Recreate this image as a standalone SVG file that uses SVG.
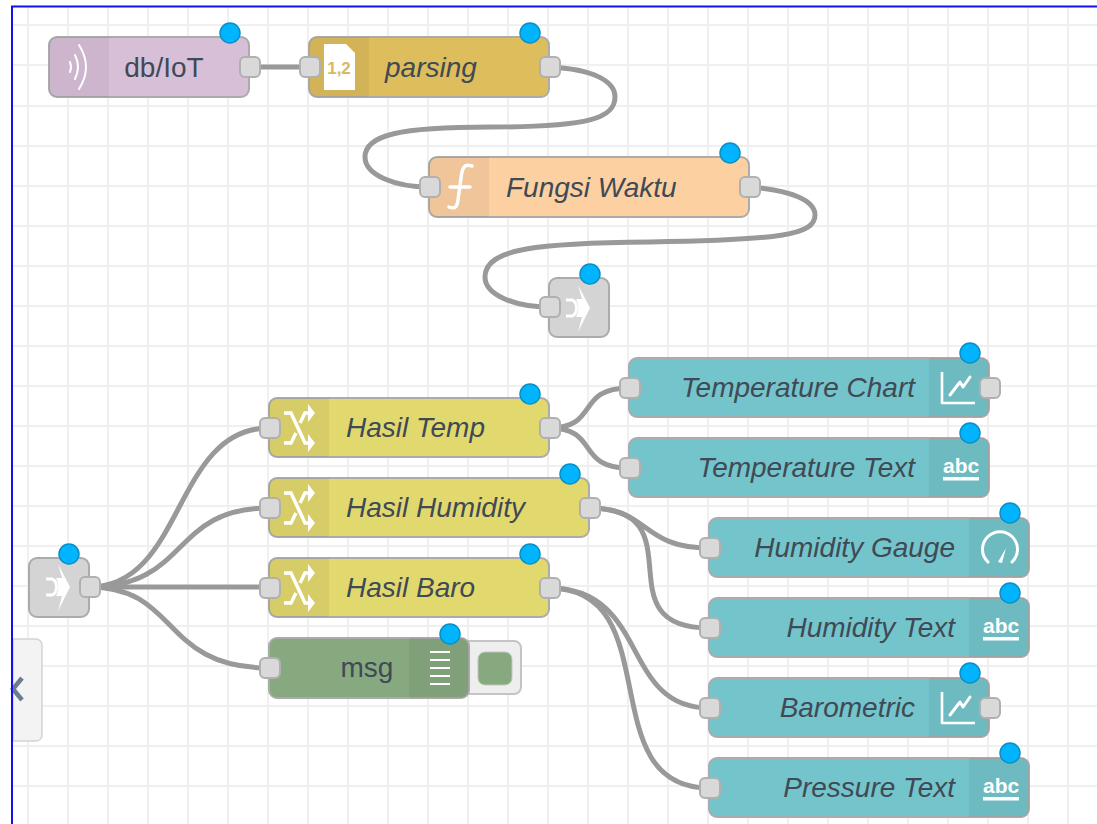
<svg xmlns="http://www.w3.org/2000/svg" width="1097" height="824" viewBox="0 0 1097 824">
<defs>
<style>
.g{stroke:#f0f0f0;stroke-width:2;fill:none}
.w{fill:none;stroke:#999;stroke-width:5;stroke-linecap:round}
.n{stroke:#ababab;stroke-width:2}
.ic{fill:#000;fill-opacity:.05;stroke:none}
.p{fill:#d9d9d9;stroke:#b0b0b0;stroke-width:2}
.b{fill:#00b4ff;stroke:#0a8fc4;stroke-width:1.5}
.t{font-family:"Liberation Sans",Arial,sans-serif;font-size:28px;fill:#3f4a55}
.i{font-style:italic}
.s{fill:none;stroke:#fff;stroke-width:2.6;stroke-linecap:round;stroke-linejoin:round}
.f{fill:#fff;stroke:none}
.abc{font-family:"Liberation Sans",Arial,sans-serif;font-size:21px;font-weight:bold;fill:#fff}
</style>
<g id="ch"><path class="s" d="M-17-17V14H16" style="stroke-linecap:butt"/><path class="s" d="M-9 6L1-7L4-2L11-12" style="stroke-width:3"/></g>
<g id="ab"><text class="abc" x="-18" y="7">abc</text><rect class="f" x="-18" y="11" width="36" height="3.5"/></g>
<g id="sw"><path class="s" d="M-15-15H-8L6 15H11M-15 15H-8L-3 5M1-5L6-15H11" style="stroke-width:3.500;stroke-linecap:butt;stroke-linejoin:miter"/><path class="f" d="M9-24L16-15L9-6ZM9 6L16 15L9 24Z"/></g>
<g id="lk"><path class="f" d="M-1-23L11 0L-1 24L3 9H-3C0 4 0-4-3-9H3Z"/><path class="s" d="M-13-8H-7C-1-6-1 6-7 8H-13" style="stroke-width:3;stroke-linecap:butt"/></g>
</defs>
<rect width="1097" height="824" fill="#fff"/>
<g id="grid">
<path class="g" d="M28 7V824M68 7V824M108 7V824M148 7V824M188 7V824M228 7V824M268 7V824M308 7V824M348 7V824M388 7V824M428 7V824M468 7V824M508 7V824M548 7V824M588 7V824M628 7V824M668 7V824M708 7V824M748 7V824M788 7V824M828 7V824M868 7V824M908 7V824M948 7V824M988 7V824M1028 7V824M1068 7V824"/>
<path class="g" d="M13 25H1097M13 65H1097M13 106H1097M13 146H1097M13 186H1097M13 226H1097M13 266H1097M13 306H1097M13 346H1097M13 386H1097M13 426H1097M13 466H1097M13 506H1097M13 546H1097M13 586H1097M13 626H1097M13 666H1097M13 706H1097M13 746H1097M13 786H1097"/>
</g>
<path id="tab" d="M13 639H36A6 6 0 0 1 42 645V735A6 6 0 0 1 36 741H13Z" fill="#f3f3f3" stroke="#d4d4d4" stroke-width="1.500"/>
<path d="M22 678L13 689L22 700" fill="none" stroke="#6d7c8c" stroke-width="4.500"/>
<path id="frame" d="M12 824V6.500H1097" fill="none" stroke="#1010f0" stroke-width="2"/>
<g id="connectors">
<path class="w" d="M249 67H309"/>
<path class="w" d="M549 67C595 69 615 82 615 97C615 118 590 127 490 127C400 127 365 135 365 157C365 175 395 187 429 187"/>
<path class="w" d="M749 187C790 190 815 200 815 215C815 235 780 240 650 242C540 243 485 248 485 277C485 295 515 307 549 307"/>
<path class="w" d="M89 587C185 587 173 428 269 428"/>
<path class="w" d="M89 587C190 587 170 508 269 508"/>
<path class="w" d="M89 587H269"/>
<path class="w" d="M89 587C180 587 160 668 269 668"/>
<path class="w" d="M549 428C600 428 575 388 629 388"/>
<path class="w" d="M549 428C600 428 575 468 629 468"/>
<path class="w" d="M589 508C650 508 640 548 709 548"/>
<path class="w" d="M589 508C700 508 600 628 709 628"/>
<path class="w" d="M549 588C650 588 620 708 709 708"/>
<path class="w" d="M549 588C670 588 590 788 709 788"/>
</g>
<g id="n-dbiot"><rect class="n" x="49" y="37" width="200" height="60" rx="8" fill="#d8bfd8"/><path class="ic" d="M57 37H109V97H57A8 8 0 0 1 49 89V45A8 8 0 0 1 57 37Z"/><path class="s" d="M70 62Q72 67 70 72M75 55Q81 67 75 79M79 45Q93 67 79 89" style="stroke-width:2"/><text class="t" x="164" y="77" text-anchor="middle">db/IoT</text><rect class="p" x="240" y="57" width="20" height="20" rx="5"/><circle class="b" cx="230" cy="33" r="10"/></g>
<g id="n-parsing"><rect class="n" x="309" y="37" width="240" height="60" rx="8" fill="#debd5c"/><path class="ic" d="M317 37H369V97H317A8 8 0 0 1 309 89V45A8 8 0 0 1 317 37Z"/><path class="f" d="M324 44H346L355 53V90H324Z"/><text x="339" y="74" text-anchor="middle" font-family="Liberation Sans,sans-serif" font-size="17" font-weight="bold" fill="#d9b95c">1,2</text><text class="t i" x="385" y="77">parsing</text><rect class="p" x="300" y="57" width="20" height="20" rx="5"/><rect class="p" x="540" y="57" width="20" height="20" rx="5"/><circle class="b" cx="530" cy="33" r="10"/></g>
<g id="n-fungsi"><rect class="n" x="429" y="157" width="320" height="60" rx="8" fill="#fdd0a2"/><path class="ic" d="M437 157H489V217H437A8 8 0 0 1 429 209V165A8 8 0 0 1 437 157Z"/><path class="s" d="M472 166C463 163 462 170 461 178L458 200C457 208 454 209 449 207M450 187H470" style="stroke-width:3.500"/><text class="t i" x="506" y="197">Fungsi Waktu</text><rect class="p" x="420" y="177" width="20" height="20" rx="5"/><rect class="p" x="740" y="177" width="20" height="20" rx="5"/><circle class="b" cx="730" cy="153" r="10"/></g>
<g id="n-linkout"><rect class="n" x="549" y="278" width="60" height="59" rx="8" fill="#d4d4d4"/><use href="#lk" x="579" y="308"/><rect class="p" x="540" y="297" width="20" height="20" rx="5"/><circle class="b" cx="590" cy="274" r="10"/></g>
<g id="n-linkin"><rect class="n" x="29" y="558" width="60" height="59" rx="8" fill="#d4d4d4"/><use href="#lk" x="59" y="587"/><rect class="p" x="80" y="577" width="20" height="20" rx="5"/><circle class="b" cx="69" cy="554" r="10"/></g>
<g id="n-hasiltemp"><rect class="n" x="269" y="398" width="280" height="59" rx="8" fill="#e2d96e"/><path class="ic" d="M277 398H329V457H277A8 8 0 0 1 269 449V406A8 8 0 0 1 277 398Z"/><use href="#sw" x="299" y="428"/><text class="t i" x="346" y="437">Hasil Temp</text><rect class="p" x="260" y="418" width="20" height="20" rx="5"/><rect class="p" x="540" y="418" width="20" height="20" rx="5"/><circle class="b" cx="530" cy="394" r="10"/></g>
<g id="n-hasilhum"><rect class="n" x="269" y="478" width="320" height="59" rx="8" fill="#e2d96e"/><path class="ic" d="M277 478H329V537H277A8 8 0 0 1 269 529V486A8 8 0 0 1 277 478Z"/><use href="#sw" x="299" y="508"/><text class="t i" x="346" y="517">Hasil Humidity</text><rect class="p" x="260" y="498" width="20" height="20" rx="5"/><rect class="p" x="580" y="498" width="20" height="20" rx="5"/><circle class="b" cx="570" cy="474" r="10"/></g>
<g id="n-hasilbaro"><rect class="n" x="269" y="558" width="280" height="59" rx="8" fill="#e2d96e"/><path class="ic" d="M277 558H329V617H277A8 8 0 0 1 269 609V566A8 8 0 0 1 277 558Z"/><use href="#sw" x="299" y="588"/><text class="t i" x="346" y="597">Hasil Baro</text><rect class="p" x="260" y="578" width="20" height="20" rx="5"/><rect class="p" x="540" y="578" width="20" height="20" rx="5"/><circle class="b" cx="530" cy="554" r="10"/></g>
<g id="n-msg"><rect x="462" y="641" width="59" height="53" rx="7" fill="#eeeeee" stroke="#c4c4c4" stroke-width="2"/><rect x="478" y="652" width="34" height="33" rx="7" fill="#87a980" stroke="#c0c8bd"/><rect class="n" x="269" y="638" width="200" height="60" rx="8" fill="#87a980"/><path class="ic" d="M409 638H461A8 8 0 0 1 469 646V690A8 8 0 0 1 461 698H409Z"/><path class="s" d="M430 652H450M430 660H450M430 668H450M430 676H450M430 684H450" style="stroke-width:2.200;stroke-linecap:butt"/><text class="t" x="367" y="677" text-anchor="middle">msg</text><rect class="p" x="260" y="658" width="20" height="20" rx="5"/><circle class="b" cx="450" cy="634" r="10"/></g>
<g id="n-tempchart"><rect class="n" x="629" y="358" width="360" height="59" rx="8" fill="#74c4cc"/><path class="ic" d="M929 358H981A8 8 0 0 1 989 366V409A8 8 0 0 1 981 417H929Z"/><use href="#ch" x="959" y="389"/><text class="t i" x="915" y="397" text-anchor="end">Temperature Chart</text><rect class="p" x="620" y="378" width="20" height="20" rx="5"/><rect class="p" x="980" y="378" width="20" height="20" rx="5"/><circle class="b" cx="970" cy="353" r="10"/></g>
<g id="n-temptext"><rect class="n" x="629" y="438" width="360" height="59" rx="8" fill="#74c4cc"/><path class="ic" d="M929 438H981A8 8 0 0 1 989 446V489A8 8 0 0 1 981 497H929Z"/><use href="#ab" x="961" y="466"/><text class="t i" x="915" y="477" text-anchor="end">Temperature Text</text><rect class="p" x="620" y="458" width="20" height="20" rx="5"/><circle class="b" cx="970" cy="433" r="10"/></g>
<g id="n-humgauge"><rect class="n" x="709" y="518" width="320" height="59" rx="8" fill="#74c4cc"/><path class="ic" d="M969 518H1021A8 8 0 0 1 1029 526V569A8 8 0 0 1 1021 577H969Z"/><path class="s" d="M988 562A17.500 17.500 0 1 1 1012 562" style="stroke-width:3"/><path class="f" d="M998 562L1006 548L1002 563Z"/><text class="t i" x="955" y="557" text-anchor="end">Humidity Gauge</text><rect class="p" x="700" y="538" width="20" height="20" rx="5"/><circle class="b" cx="1010" cy="513" r="10"/></g>
<g id="n-humtext"><rect class="n" x="709" y="598" width="320" height="59" rx="8" fill="#74c4cc"/><path class="ic" d="M969 598H1021A8 8 0 0 1 1029 606V649A8 8 0 0 1 1021 657H969Z"/><use href="#ab" x="1001" y="626"/><text class="t i" x="955" y="637" text-anchor="end">Humidity Text</text><rect class="p" x="700" y="618" width="20" height="20" rx="5"/><circle class="b" cx="1010" cy="593" r="10"/></g>
<g id="n-barometric"><rect class="n" x="709" y="678" width="280" height="59" rx="8" fill="#74c4cc"/><path class="ic" d="M929 678H981A8 8 0 0 1 989 686V729A8 8 0 0 1 981 737H929Z"/><use href="#ch" x="959" y="709"/><text class="t i" x="915" y="717" text-anchor="end">Barometric</text><rect class="p" x="700" y="698" width="20" height="20" rx="5"/><rect class="p" x="980" y="698" width="20" height="20" rx="5"/><circle class="b" cx="970" cy="673" r="10"/></g>
<g id="n-presstext"><rect class="n" x="709" y="758" width="320" height="59" rx="8" fill="#74c4cc"/><path class="ic" d="M969 758H1021A8 8 0 0 1 1029 766V809A8 8 0 0 1 1021 817H969Z"/><use href="#ab" x="1001" y="786"/><text class="t i" x="955" y="797" text-anchor="end">Pressure Text</text><rect class="p" x="700" y="778" width="20" height="20" rx="5"/><circle class="b" cx="1010" cy="753" r="10"/></g>
</svg>
